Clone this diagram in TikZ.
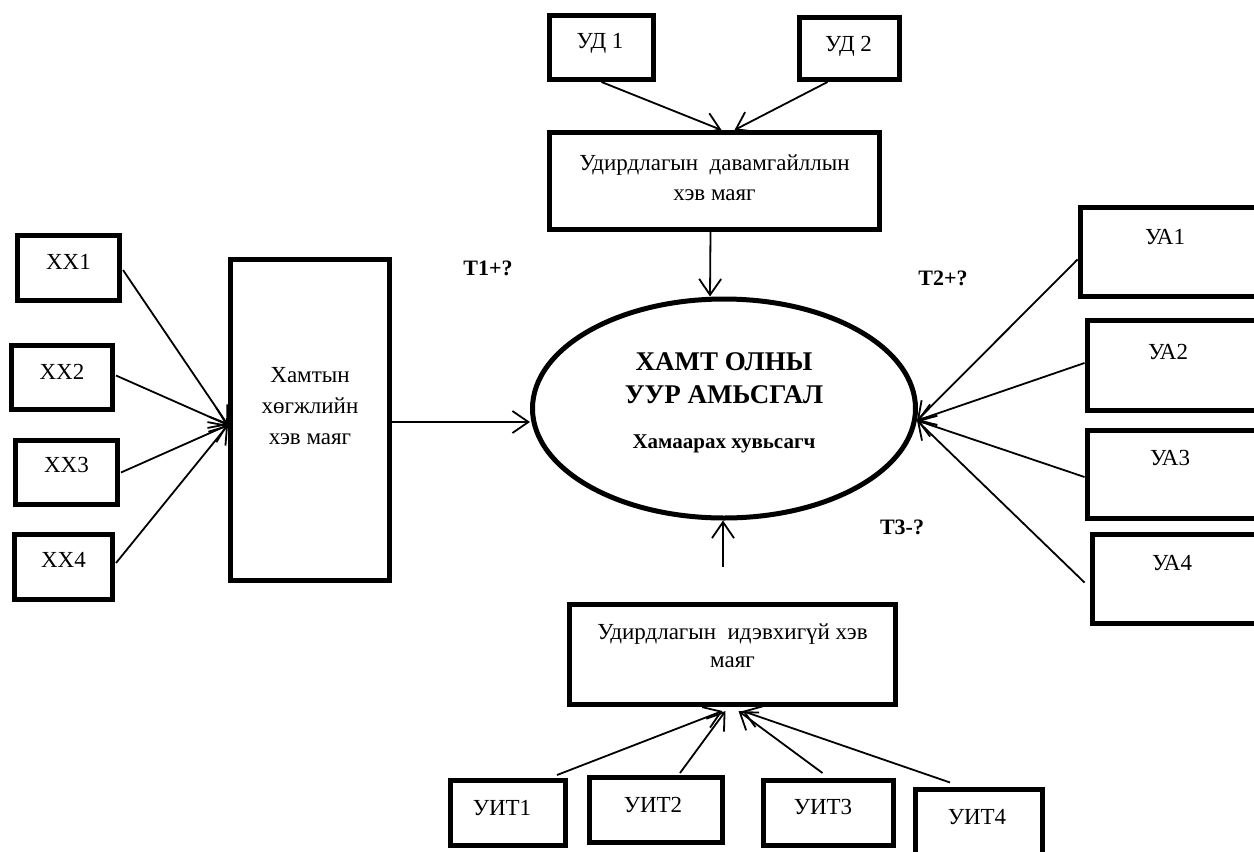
\documentclass[tikz,border=0pt]{standalone}
\usepackage{fontspec}
\setmainfont{Liberation Serif}
\usetikzlibrary{arrows.meta,calc,shapes.geometric}
\begin{document}
\begin{tikzpicture}[x=1pt,y=-1pt,
  box/.style={draw, line width=5pt, rectangle, inner sep=0pt},
  txt/.style={font=\fontsize{23}{30}\selectfont, align=center, inner sep=0pt},
  tlab/.style={font=\fontsize{22}{24}\selectfont\bfseries, inner sep=0pt},
  conn/.style={line width=1.8pt, -{Straight Barb[length=16pt,width=22pt]}}]
\useasboundingbox (0,0) rectangle (1254,852);

% top branch: two sources feeding the continuing-management box
\node[box, minimum width=104pt, minimum height=64pt,
      label={[txt,xshift=-1.5pt,yshift=4.5pt]center:УД 1}] (ud1) at (601.5,47.5) {};
\node[box, minimum width=100pt, minimum height=62pt,
      label={[txt,xshift=-1pt,yshift=2.5pt]center:УД 2}] (ud2) at (849.5,48.5) {};
\node[box, minimum width=330pt, minimum height=97pt,
      label={[txt,yshift=3pt]center:Удирдлагын\ \ давамгайллын\\хэв маяг}] (udt) at (714.5,181) {};

% central dependent variable
\node[draw, ellipse, line width=5pt, minimum width=383pt, minimum height=219pt, inner sep=0pt,
      label={[inner sep=0pt, align=center, font=\fontsize{27}{33}\selectfont\bfseries, yshift=30pt]center:ХАМТ ОЛНЫ\\УУР АМЬСГАЛ},
      label={[inner sep=0pt, font=\fontsize{21}{24}\selectfont\bfseries, yshift=-35pt]center:Хамаарах хувьсагч}]
      (ell) at (724,408.5) {};

% left branch
\node[box, minimum width=102pt, minimum height=65pt,
      label={[txt,yshift=6pt]center:ХХ1}] (xx1) at (68.5,268) {};
\node[box, minimum width=101pt, minimum height=64pt,
      label={[txt,yshift=5.5pt]center:ХХ2}] (xx2) at (62,377.5) {};
\node[box, minimum width=102pt, minimum height=64pt,
      label={[txt,yshift=7.5pt]center:ХХ3}] (xx3) at (66.5,472.5) {};
\node[box, minimum width=98pt, minimum height=65pt,
      label={[txt,yshift=7pt]center:ХХ4}] (xx4) at (63.5,567) {};
\node[box, minimum width=159pt, minimum height=321pt,
      label={[txt,font=\fontsize{23}{31}\selectfont,yshift=14pt]center:Хамтын\\хөгжлийн\\хэв маяг}] (hx) at (310,420) {};

% right branch (boxes run past the right edge)
\node[box, minimum width=184pt, minimum height=89pt,
      label={[txt,xshift=-7pt,yshift=14.5pt]center:УА1}] (ua1) at (1172,251.5) {};
\node[box, minimum width=178pt, minimum height=90pt,
      label={[txt,xshift=-8pt,yshift=13pt]center:УА2}] (ua2) at (1176,365) {};
\node[box, minimum width=178pt, minimum height=88pt,
      label={[txt,xshift=-6pt,yshift=16pt]center:УА3}] (ua3) at (1176,474) {};
\node[box, minimum width=174pt, minimum height=89pt,
      label={[txt,xshift=-7pt,yshift=15.5pt]center:УА4}] (ua4) at (1179,578.5) {};

% bottom branch
\node[box, minimum width=326pt, minimum height=100pt,
      label={[txt,font=\fontsize{23}{28}\selectfont,yshift=8.5pt]center:Удирдлагын\ \ идэвхигүй хэв\\маяг}] (ub) at (732.5,654.5) {};
\node[box, minimum width=115pt, minimum height=65pt,
      label={[txt,xshift=-6pt,yshift=5pt]center:УИТ1}] (uit1) at (508,813) {};
\node[box, minimum width=133pt, minimum height=65pt,
      label={[txt,xshift=-3pt,yshift=5pt]center:УИТ2}] (uit2) at (656,810) {};
\node[box, minimum width=130pt, minimum height=65pt,
      label={[txt,xshift=-5.5pt,yshift=6pt]center:УИТ3}] (uit3) at (828.5,813) {};
\node[box, minimum width=127pt, minimum height=70pt,
      label={[txt,xshift=-2pt,yshift=6.5pt]center:УИТ4}] (uit4) at (979,824) {};

% hypothesis labels
\node[tlab] (t1) at (488,268) {T1+?};
\node[tlab] (t2) at (943,278) {T2+?};
\node[tlab] (t3) at (902,527) {T3-?};

% connectors
\draw[conn] (ud1.south) -- ($(udt.north)+(7,0)$);
\draw[conn] ($(ud2.south)+(-22,0)$) -- ($(udt.north)+(20,0)$);
\draw[conn] ($(udt.south)+(-4,0)$) -- ($(ell.north)+(-14,0)$);

\coordinate (hxin) at ($(hx.west)+(0,5)$);
\draw[conn] ($(xx1.east)+(1,2)$) -- (hxin);
\draw[conn] ($(xx2.east)+(1,-2)$) -- (hxin);
\draw[conn] ($(xx3.east)+(1,0)$) -- (hxin);
\draw[conn] ($(xx4.east)+(1,-4)$) -- (hxin);

\coordinate (hxout) at ($(hx.east)+(0,2)$);
\draw[conn] (hxout) -- (hxout -| ell.west);

\coordinate (ellin) at ($(ell.east)+(-1,12)$);
\draw[conn] ($(ua1.west)+(0,8)$) -- (ellin);
\draw[conn] ($(ua2.west)+(0,-2)$) -- (ellin);
\draw[conn] ($(ua3.west)+(0,3)$) -- (ellin);
\draw[conn] ($(ua4.west)+(-5,4)$) -- (ellin);

\coordinate (ubtail) at (723,567);
\draw[conn] (ubtail) -- (ubtail |- ell.south);

\draw[conn] ($(uit1.north)+(49,-3)$) -- ($(ub.south)+(-10,4)$);
\draw[conn] ($(uit2.north)+(24,-2)$) -- ($(ub.south)+(-7,4)$);
\draw[conn] ($(uit3.north)+(-6,-5)$) -- ($(ub.south)+(6,4)$);
\draw[conn] ($(uit4.north)+(-29,-4)$) -- ($(ub.south)+(10,4)$);
\end{tikzpicture}
\end{document}
